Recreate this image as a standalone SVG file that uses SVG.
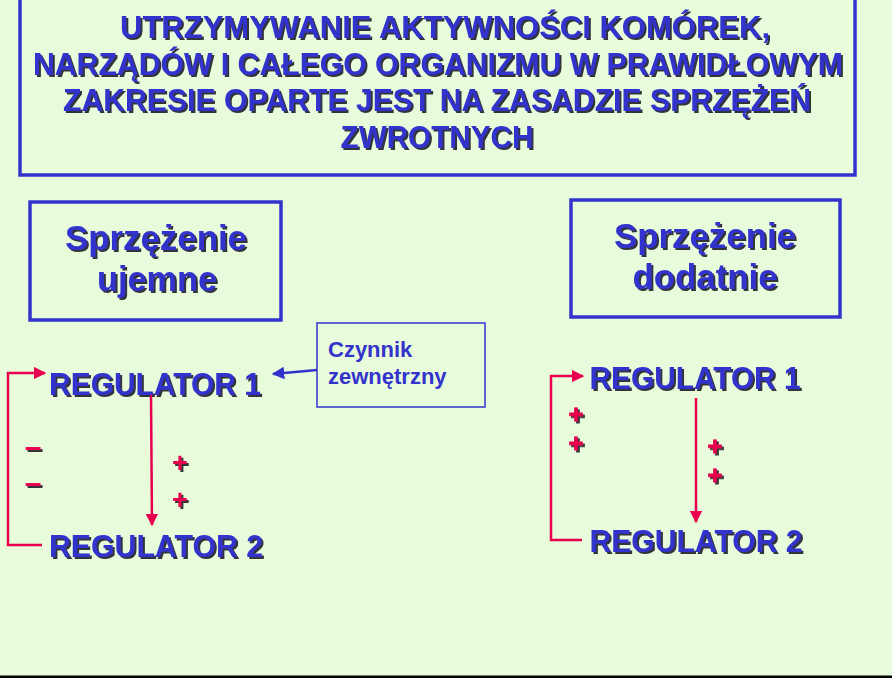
<svg xmlns="http://www.w3.org/2000/svg" width="892" height="678" viewBox="0 0 892 678">
<defs>
<style>
.t{font-family:"Liberation Sans",Arial,sans-serif;font-weight:bold;fill:#3333cc;text-anchor:middle}
.box{fill:none;stroke:#3333cc;stroke-width:3.5}
.red{fill:none;stroke:#e8004e;stroke-width:2.5}
.sign{font-family:"Liberation Sans",Arial,sans-serif;font-weight:bold;fill:#e8004e;text-anchor:middle}
.big{stroke:#e8004e;stroke-width:0.8}
</style>
<filter id="sh" x="-5%" y="-20%" width="110%" height="140%">
<feDropShadow dx="2" dy="2" stdDeviation="0.3" flood-color="#1a1a2a" flood-opacity="0.9"/>
</filter>
<marker id="ar" viewBox="0 0 10 10" refX="9" refY="5" markerWidth="5" markerHeight="5" orient="auto" markerUnits="strokeWidth">
<path d="M0,0 L10,5 L0,10 z" fill="#e8004e"/>
</marker>
<marker id="ab" viewBox="0 0 10 10" refX="9" refY="5" markerWidth="5" markerHeight="5" orient="auto" markerUnits="strokeWidth">
<path d="M0,0 L10,5 L0,10 z" fill="#3333cc"/>
</marker>
</defs>
<rect x="0" y="0" width="892" height="678" fill="#e8fcdc"/>
<rect x="0" y="675.5" width="892" height="3" fill="#000"/>

<g id="title">
<rect class="box" x="20" y="-10" width="835" height="185"/>
<g class="t" font-size="32" filter="url(#sh)">
<text x="445" y="38" textLength="650" lengthAdjust="spacingAndGlyphs">UTRZYMYWANIE AKTYWNOŚCI KOMÓREK,</text>
<text x="438" y="75" textLength="810" lengthAdjust="spacingAndGlyphs">NARZĄDÓW I CAŁEGO ORGANIZMU W PRAWIDŁOWYM</text>
<text x="437" y="111" textLength="748" lengthAdjust="spacingAndGlyphs">ZAKRESIE OPARTE JEST NA ZASADZIE SPRZĘŻEŃ</text>
<text x="437" y="148" textLength="193" lengthAdjust="spacingAndGlyphs">ZWROTNYCH</text>
</g>
</g>

<g id="negative">
<rect class="box" x="30" y="202" width="251" height="118"/>
<g class="t" font-size="35" filter="url(#sh)">
<text x="156" y="250" textLength="182" lengthAdjust="spacingAndGlyphs">Sprzężenie</text>
<text x="157" y="291" textLength="120" lengthAdjust="spacingAndGlyphs">ujemne</text>
</g>
</g>

<g id="positive">
<rect class="box" x="571" y="200" width="269" height="117"/>
<g class="t" font-size="35" filter="url(#sh)">
<text x="705" y="248" textLength="182" lengthAdjust="spacingAndGlyphs">Sprzężenie</text>
<text x="705" y="289" textLength="145" lengthAdjust="spacingAndGlyphs">dodatnie</text>
</g>
</g>

<g id="factor">
<rect x="317" y="323" width="168" height="84" fill="none" stroke="#3333cc" stroke-width="1.5"/>
<text class="t" font-size="22" x="328" y="357" style="text-anchor:start">Czynnik</text>
<text class="t" font-size="22" x="328" y="384" style="text-anchor:start">zewnętrzny</text>
</g>

<g id="reg1-left"><text class="t" font-size="31" x="155" y="395" textLength="212" lengthAdjust="spacingAndGlyphs" filter="url(#sh)">REGULATOR 1</text></g>
<g id="reg2-left"><text class="t" font-size="31" x="156" y="557" textLength="214" lengthAdjust="spacingAndGlyphs" filter="url(#sh)">REGULATOR 2</text></g>
<g id="reg1-right"><text class="t" font-size="31" x="695" y="389" textLength="211" lengthAdjust="spacingAndGlyphs" filter="url(#sh)">REGULATOR 1</text></g>
<g id="reg2-right"><text class="t" font-size="31" x="696" y="552" textLength="213" lengthAdjust="spacingAndGlyphs" filter="url(#sh)">REGULATOR 2</text></g>

<g id="signs" filter="url(#sh)">
<text class="sign" font-size="30" x="33" y="457">–</text>
<text class="sign" font-size="30" x="33" y="493">–</text>
<text class="sign" font-size="27" x="180" y="472">+</text>
<text class="sign" font-size="27" x="180" y="509">+</text>
<text class="sign big" font-size="25.5" x="576" y="423">+</text>
<text class="sign big" font-size="25.5" x="576" y="452">+</text>
<text class="sign big" font-size="25.5" x="715" y="455">+</text>
<text class="sign big" font-size="25.5" x="715" y="484">+</text>
</g>

<g id="connectors">
<path class="red" d="M42,545 L8,545 L8,373 L45,373" marker-end="url(#ar)"/>
<path class="red" d="M151,395 L152,525" marker-end="url(#ar)"/>
<path class="red" d="M582,540 L551,540 L551,376 L583,376" marker-end="url(#ar)"/>
<path class="red" d="M696,398 L696,522" marker-end="url(#ar)"/>
<path d="M317,370 L273,374" fill="none" stroke="#3333cc" stroke-width="2.5" marker-end="url(#ab)"/>
</g>
</svg>
